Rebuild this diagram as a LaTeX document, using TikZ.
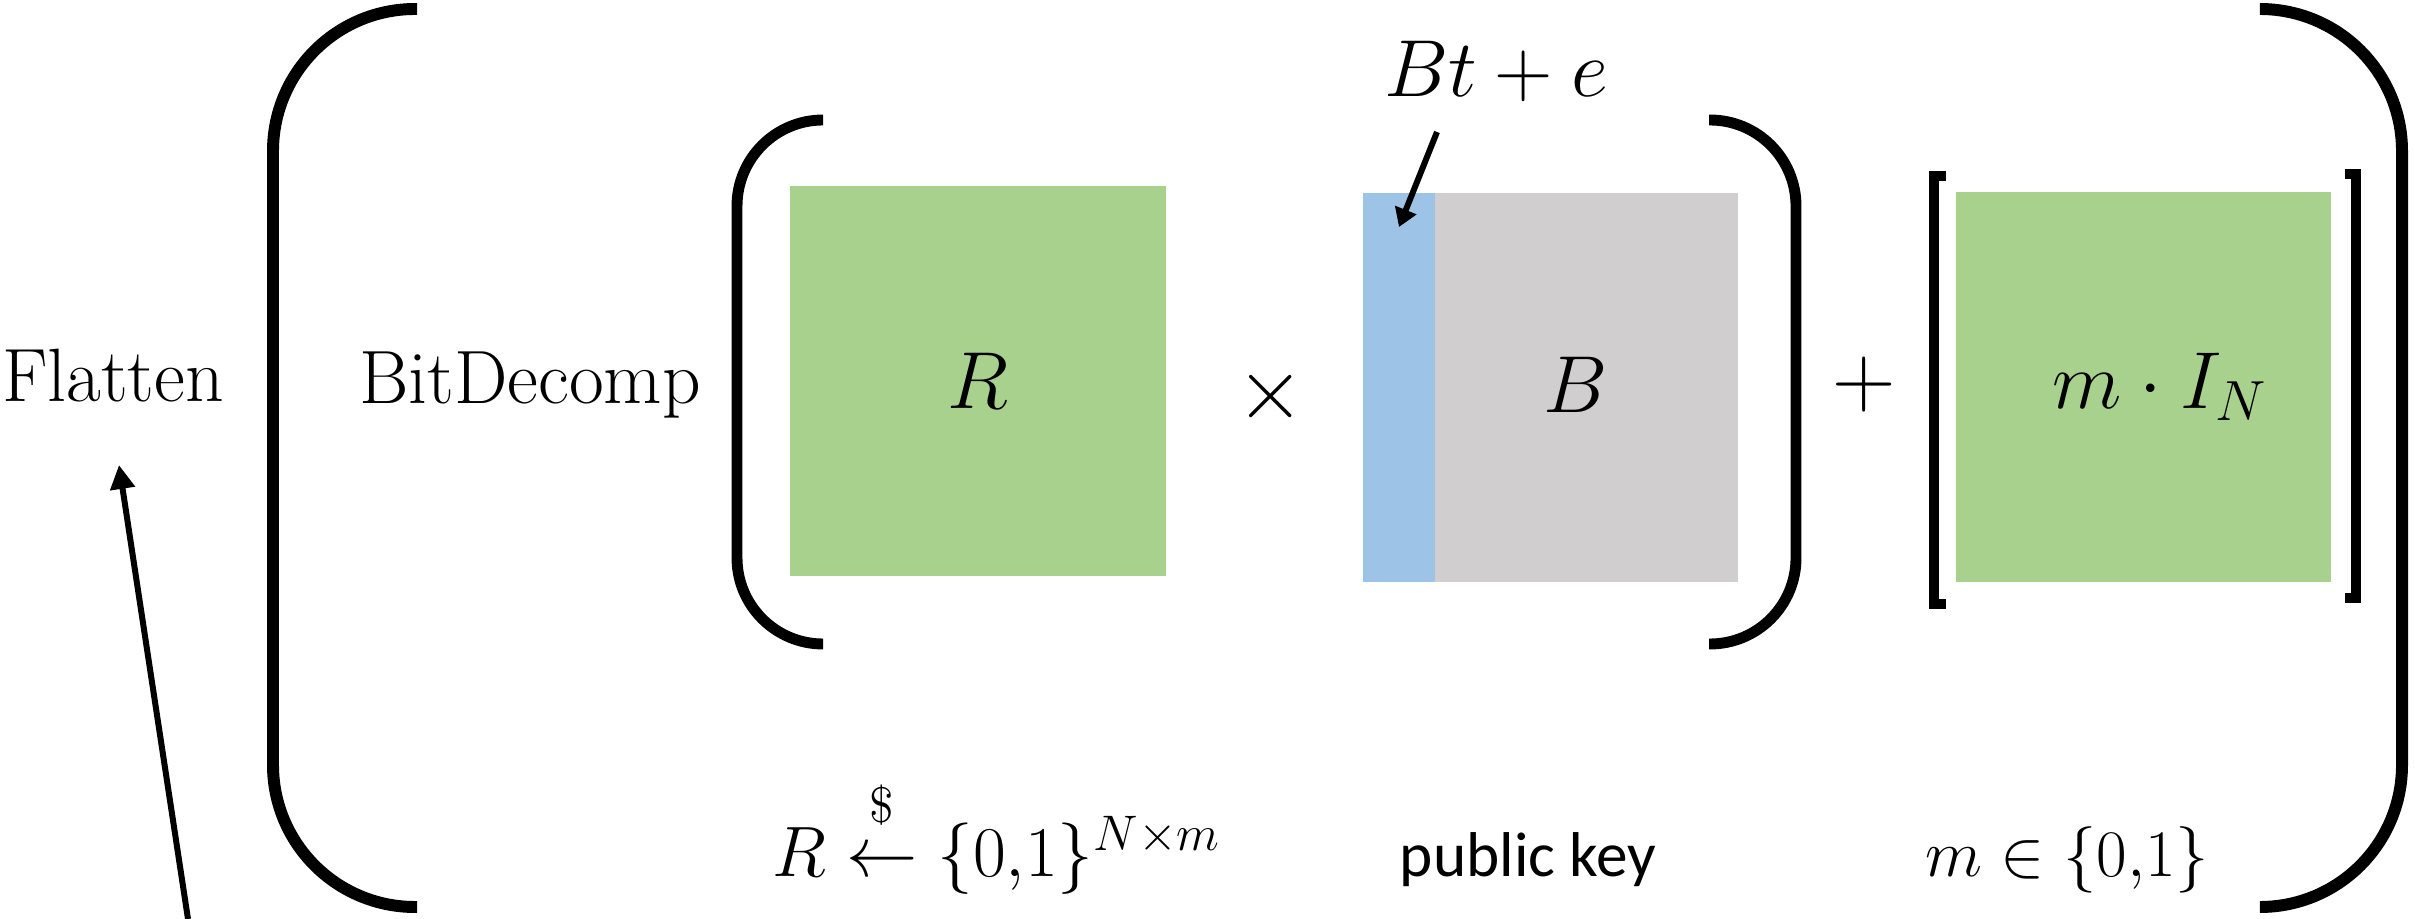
\RequirePackage{fix-cm}
\documentclass[tikz,border=0pt]{standalone}
\usepackage{amsmath}
\usepackage{fontspec}
\newfontfamily\keyfont{Carlito}
\usepackage{xcolor}
\usetikzlibrary{arrows.meta}
\definecolor{matgreen}{HTML}{A9D18E}
\definecolor{matblue}{HTML}{9DC3E6}
\definecolor{matgray}{HTML}{D0CECE}
\tikzset{
  txt/.style      = {inner sep=0pt, anchor=base, font=\fontsize{21.5}{26}\selectfont},
  sublab/.style   = {inner sep=0pt, anchor=base, font=\fontsize{20.3}{24}\selectfont},
  opsym/.style    = {inner sep=0pt, font=\fontsize{25}{30}\selectfont},
  mat/.style      = {draw=none, inner sep=0pt, font=\fontsize{23}{28}\selectfont},
  bigparen/.style = {line width=3.4pt, rounded corners=1.42cm},
  inparen/.style  = {line width=3.1pt, rounded corners=0.86cm},
  sqbrack/.style  = {line width=2.7pt},
  ptr/.style      = {-{Triangle[length=6.8pt,width=6.8pt]}, line width=1.7pt},
}

\begin{document}
\begin{tikzpicture}[x=0.01cm, y=-0.01cm]
  \useasboundingbox (0,0) rectangle (2415,919);
  % outer labels
  \node[txt] (flatten) at (113,402) {Flatten};
  \node[txt] (bitdec)  at (530,404) {BitDecomp};
  \coordinate (flatfrom) at (188,919);
  \coordinate (flattip) at (119,465);
  \draw[ptr] (flatfrom) -- (flattip);
  % big parentheses
  \draw[bigparen] (417,9) -- (273,9) -- (273,907) -- (417,907);
  \draw[bigparen] (2261,9) -- (2402,9) -- (2402,907) -- (2261,907);
  % R x B
  \draw[inparen] (823,120) -- (737,120) -- (737,644) -- (823,644);
  \draw[inparen] (1709,120) -- (1796,120) -- (1796,644) -- (1709,644);
  \node[mat, fill=matgreen, minimum width=3.76cm, minimum height=3.90cm] (Rmat) at (978,381) {$R$};
  \node[opsym] (times) at (1271,397) {$\times$};
  \node[mat, fill=matblue, minimum width=0.72cm, minimum height=3.89cm] (tcol) at (1399,387.5) {};
  \node[mat, fill=matgray, minimum width=3.03cm, minimum height=3.89cm] (Bmat) at (1586.5,387.5) {};
  \node[mat] (Blab) at (1576,385) {$B$};
  \node[mat, anchor=base] (bte) at (1496,97) {$Bt+e$};
  \coordinate (btefrom) at (1437,132);
  \coordinate (btetip) at (1399,227);
  \draw[ptr, -{Triangle[length=5.2pt,width=6.3pt]}] (btefrom) -- (btetip);
  % + m I_N
  \node[opsym] (plus) at (1864,385) {$+$};
  \draw[sqbrack] (1946,176) -- (1934,176) -- (1934,604) -- (1946,604);
  \draw[sqbrack] (2345,174) -- (2356,174) -- (2356,598) -- (2345,598);
  \node[mat, fill=matgreen, minimum width=3.75cm, minimum height=3.90cm] (Imat) at (2143.5,387) {};
  \node[mat] (Ilab) at (2160,387) {$m\cdot I_N$};
  % bottom labels
  \node[sublab] (Rdist) at (997,876) {$R\overset{\raisebox{0.4ex}{$\scriptstyle\$$}}{\leftarrow}\{0{,}1\}^{N\times m}$};
  \node[sublab, font=\keyfont\fontsize{18}{22}\selectfont] (pkey) at (1528,876) {public key};
  \node[sublab, font=\fontsize{18.9}{23}\selectfont] (mset) at (2067,876) {$m\in\{0{,}1\}$};
\end{tikzpicture}
\end{document}
